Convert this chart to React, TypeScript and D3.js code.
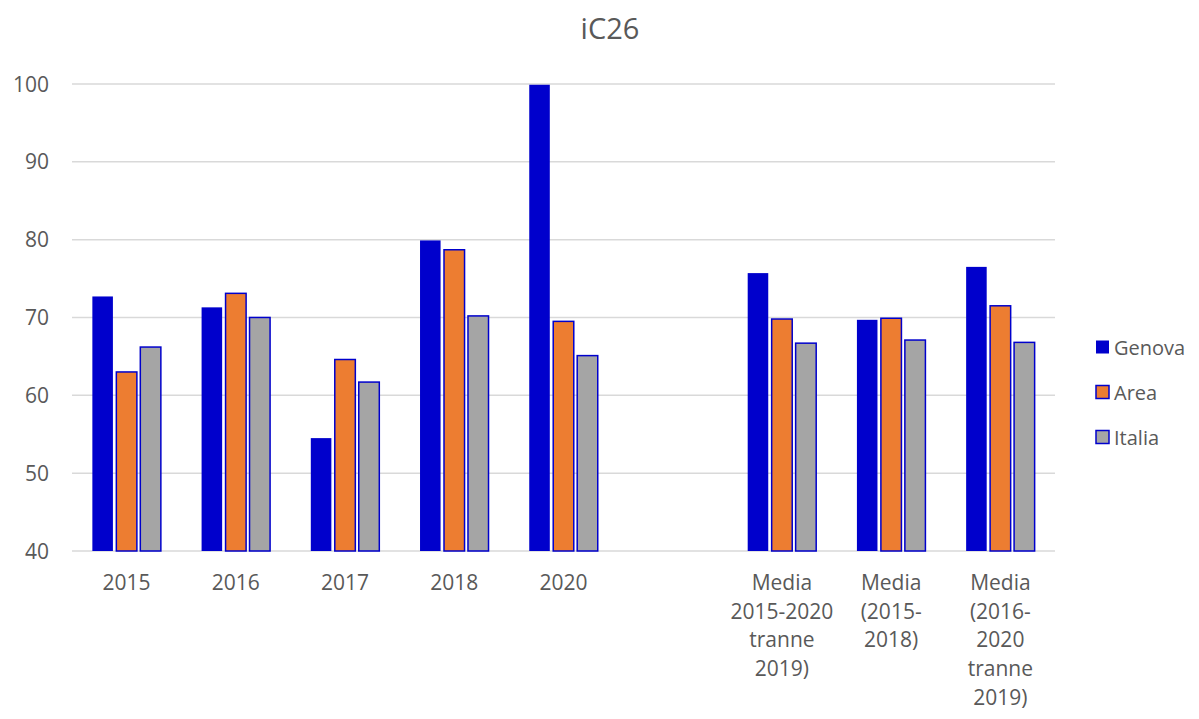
import React, { useEffect, useRef } from 'react';
import * as d3 from 'd3';

const categories = ['2015', '2016', '2017', '2018', '2020', '', 'media1', 'media2', 'media3'];
const categoryLabels = [
  ['2015'],
  ['2016'],
  ['2017'],
  ['2018'],
  ['2020'],
  [],
  ['Media', '2015-2020', 'tranne', '2019)'],
  ['Media', '(2015-', '2018)'],
  ['Media', '(2016-', '2020', 'tranne', '2019)'],
];
const seriesNames = ['Genova', 'Area', 'Italia'];
const genova = [72.8, 71.4, 54.6, 80.0, 100, null, 75.8, 69.8, 76.6];
const area = [63.1, 73.2, 64.7, 78.8, 69.6, null, 69.9, 70.0, 71.6];
const italia = [66.3, 70.1, 61.8, 70.3, 65.2, null, 66.8, 67.2, 66.9];
const yTicks = [40, 50, 60, 70, 80, 90, 100];

const fills = ['#0000CC', '#ED7D31', '#A5A5A5'];
const strokeBlue = '#0000CC';
const textColor = '#595959';
const font = "'Open Sans', 'Liberation Sans', sans-serif";

const W = 1199;
const H = 719;
const margin = { left: 72, right: 144, top: 84, bottom: 168 };

const App = () => {
  const ref = useRef(null);

  useEffect(() => {
    const svg = d3.select(ref.current);
    svg.selectAll('*').remove();

    const x = d3.scaleBand().domain(categories).range([margin.left, W - margin.right]).padding(0);
    const x1 = d3.scaleBand().domain(seriesNames).range([-35, 35]).paddingInner(0.08);
    const y = d3.scaleLinear().domain([40, 100]).range([H - margin.bottom, margin.top]);

    // title
    svg.append('text')
      .attr('x', 610).attr('y', 39)
      .attr('text-anchor', 'middle')
      .attr('font-family', font).attr('font-size', 29)
      .attr('fill', textColor)
      .text('iC26');

    // grid
    const grid = svg.append('g');
    grid.selectAll('line').data(yTicks).enter().append('line')
      .attr('x1', margin.left).attr('x2', W - margin.right)
      .attr('y1', d => y(d)).attr('y2', d => y(d))
      .attr('stroke', '#d9d9d9').attr('stroke-width', 1.5);

    grid.selectAll('text').data(yTicks).enter().append('text')
      .attr('x', 49).attr('y', d => y(d) + 7.5)
      .attr('text-anchor', 'end')
      .attr('font-family', font).attr('font-size', 21)
      .attr('fill', textColor)
      .text(d => d);

    // bars
    const series = [genova, area, italia];
    series.forEach((vals, si) => {
      svg.append('g').selectAll('rect')
        .data(vals.map((v, i) => ({ v, c: categories[i] })).filter(d => d.v != null))
        .enter().append('rect')
        .attr('x', d => x(d.c) + x.bandwidth() / 2 + x1(seriesNames[si]) + 0.75)
        .attr('y', d => y(d.v) + 0.75)
        .attr('width', x1.bandwidth() - 1.5)
        .attr('height', d => y(40) - y(d.v) - 0.75)
        .attr('fill', fills[si])
        .attr('stroke', strokeBlue)
        .attr('stroke-width', si === 0 ? 0 : 1.5);
    });

    // x labels
    const xl = svg.append('g');
    categories.forEach((c, i) => {
      const t = xl.append('text')
        .attr('text-anchor', 'middle')
        .attr('font-family', font).attr('font-size', 21)
        .attr('fill', textColor);
      categoryLabels[i].forEach((line, li) => {
        t.append('tspan')
          .attr('x', x(c) + x.bandwidth() / 2)
          .attr('y', 590 + li * 28.7)
          .text(line);
      });
    });

    // legend
    const lg = svg.append('g');
    seriesNames.forEach((s, i) => {
      const yy = 347 + i * 45;
      lg.append('rect')
        .attr('x', 1096).attr('y', yy - 6.5).attr('width', 13).attr('height', 13)
        .attr('fill', fills[i])
        .attr('stroke', strokeBlue).attr('stroke-width', i === 0 ? 0 : 1.5);
      lg.append('text')
        .attr('x', 1114).attr('y', yy + 7.5)
        .attr('font-family', font).attr('font-size', 20)
        .attr('fill', textColor)
        .text(s);
    });
  }, []);

  return (
    <svg ref={ref} width={W} height={H} style={{ display: 'block', position: 'absolute', left: 0, top: 0 }} />
  );
};

export default App;
